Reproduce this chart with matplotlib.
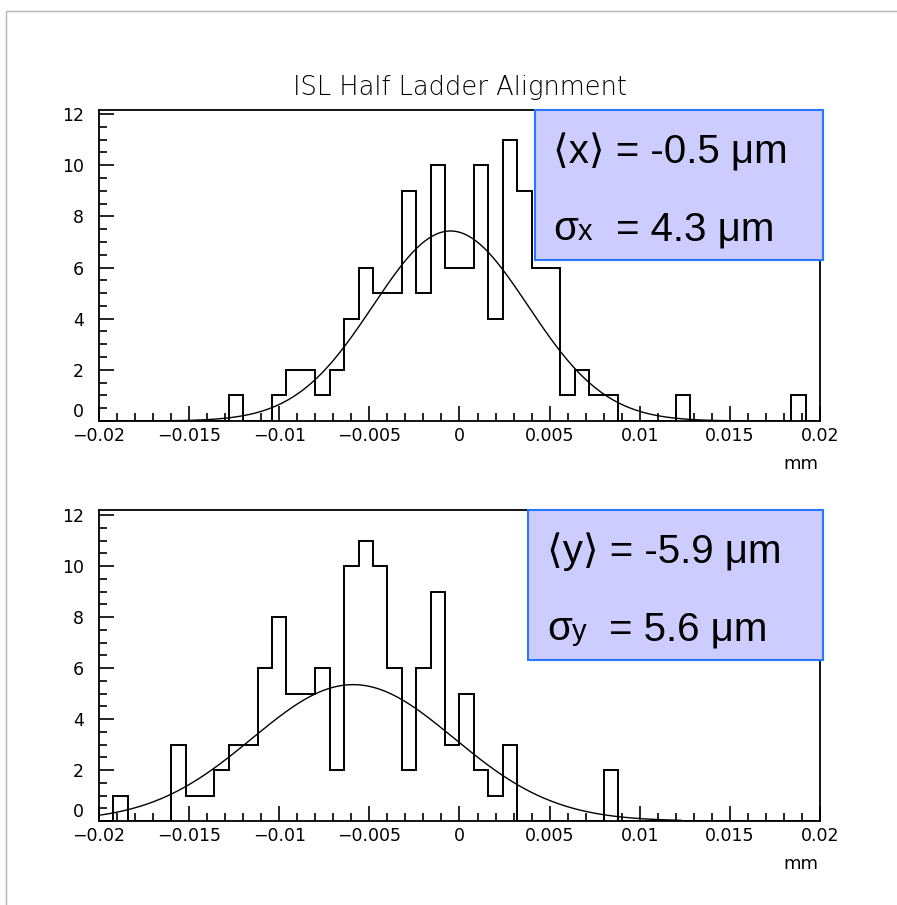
import numpy as np
import matplotlib.pyplot as plt
from matplotlib import font_manager
from matplotlib.patches import Rectangle

# histogram binning (50 bins, -0.02 .. 0.02 mm)
bin_lo, bin_hi, n_bins = -0.02, 0.02, 50

# counts per bin
counts_x = [0, 0, 0, 0, 0, 0, 0, 0, 0, 1,
            0, 0, 1, 2, 2, 1, 2, 4, 6, 5,
            5, 9, 5, 10, 6, 6, 10, 4, 11, 9,
            6, 6, 1, 2, 1, 1, 0, 0, 0, 0,
            1, 0, 0, 0, 0, 0, 0, 0, 1, 0]
counts_y = [0, 1, 0, 0, 0, 3, 1, 1, 2, 3,
            3, 6, 8, 5, 5, 6, 2, 10, 11, 10,
            6, 2, 6, 9, 3, 5, 2, 1, 3, 0,
            0, 0, 0, 0, 0, 2, 0, 0, 0, 0,
            0, 0, 0, 0, 0, 0, 0, 0, 0, 0]

# gaussian fit parameters (amplitude, mean mm, sigma mm, fit range mm)
fit_x = (7.43, -0.0005, 0.0043, (-0.0168, 0.0157))
fit_y = (5.35, -0.0059, 0.0056, (-0.0199, 0.0123))

title = "ISL Half Ladder Alignment"
x_ticks = [-0.02, -0.015, -0.01, -0.005, 0, 0.005, 0.01, 0.015, 0.02]
x_tick_labels = ["\u22120.02", "\u22120.015", "\u22120.01", "\u22120.005", "0",
                 "0.005", "0.01", "0.015", "0.02"]
y_ticks = [0, 2, 4, 6, 8, 10, 12]
unit = "mm"

W, H = 897, 905
fig = plt.figure(figsize=(W / 100, H / 100), dpi=100)

names = {f.name for f in font_manager.fontManager.ttflist}
if "Liberation Sans Narrow" in names:
    title_font, title_size = "Liberation Sans Narrow", 22
else:
    title_font, title_size = "DejaVu Sans", 18.5

# light gray page frame
fig.patches.append(Rectangle((6 / W, -0.1), 1.2, 1 - 11 / H + 0.1,
                             transform=fig.transFigure, fill=False,
                             edgecolor="#b4b4b4", lw=1.0))

edges = np.linspace(bin_lo, bin_hi, n_bins + 1)


def draw_panel(rect, counts, fit, ylim_top):
    ax = fig.add_axes(rect)
    ax.stairs(counts, edges, color="black", lw=1.4)
    amp, mu, sig, (f0, f1) = fit
    xs = np.linspace(f0, f1, 400)
    ax.plot(xs, amp * np.exp(-0.5 * ((xs - mu) / sig) ** 2), color="black", lw=1.0)
    ax.set_xlim(bin_lo, bin_hi)
    ax.set_ylim(0, ylim_top)
    ax.set_xticks(x_ticks)
    ax.set_xticklabels(x_tick_labels)
    ax.set_xticks(np.arange(-0.02, 0.0201, 0.001), minor=True)
    ax.set_yticks(y_ticks)
    ax.set_yticks(np.arange(0, 12.01, 0.5), minor=True)
    ax.tick_params(which="both", direction="in", top=False, right=False,
                   width=1.2, labelsize=12.5, colors="black")
    ax.tick_params(which="major", length=10.5)
    ax.tick_params(which="minor", length=5.5)
    ax.tick_params(axis="y", pad=11)
    ax.tick_params(axis="x", pad=4)
    ax.get_yticklabels()[0].set_verticalalignment("bottom")
    for s in ax.spines.values():
        s.set_linewidth(1.3)
    return ax


ax1 = draw_panel([99 / W, 1 - 421 / H, 721 / W, 311 / H], counts_x, fit_x, 12.16)
ax2 = draw_panel([99 / W, 1 - 821 / H, 721 / W, 311 / H], counts_y, fit_y, 12.2)

fig.text(459.5 / W, 1 - 88 / H, title, ha="center", va="center",
         family=[title_font, "DejaVu Sans"], fontsize=title_size, fontweight="light")
fig.text(801 / W, 1 - 464 / H, unit, ha="center", va="center", fontsize=13)
fig.text(801 / W, 1 - 864 / H, unit, ha="center", va="center", fontsize=13)

# stat boxes
for (x0, y0, x1, y1) in [(535, 110, 823, 260), (528, 510, 823, 660)]:
    fig.patches.append(Rectangle((x0 / W, 1 - y1 / H), (x1 - x0) / W, (y1 - y0) / H,
                                 transform=fig.transFigure, facecolor="#ccccff",
                                 edgecolor="#2a78ff", lw=1.5, zorder=5))

fam = ["Liberation Sans", "DejaVu Sans"]
big = 29


def put(x, y, s, size=big):
    fig.text(x / W, 1 - y / H, s, ha="left", va="baseline", family=fam,
             fontsize=size, zorder=6)


put(553, 163, "\u27e8x\u27e9 = -0.5 \u03bcm")
put(553, 240, "\u03c3")
put(578, 240, "x", 21)
put(616, 240, "= 4.3 \u03bcm")

put(547, 563, "\u27e8y\u27e9 = -5.9 \u03bcm")
put(547, 640, "\u03c3")
put(572, 640, "y", 21)
put(609, 640, "= 5.6 \u03bcm")

fig.savefig("out.png", dpi=100)
